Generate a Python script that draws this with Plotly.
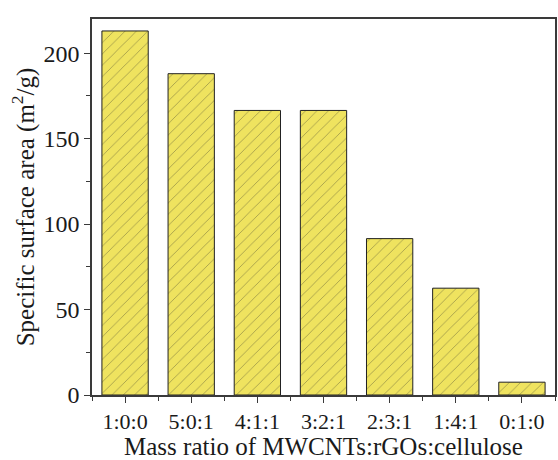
import plotly.graph_objects as go

categories = ["1:0:0", "5:0:1", "4:1:1", "3:2:1", "2:3:1", "1:4:1", "0:1:0"]
surface_area = [213, 188, 166.5, 166.5, 91.5, 62.5, 7.5]

xpos = list(range(len(categories)))
font_family = "Liberation Serif"
axis_color = "#3a3a3a"

fig = go.Figure(
    go.Bar(
        x=xpos,
        y=surface_area,
        width=0.7,
        marker=dict(
            color="#efe35f",
            line=dict(color="#222222", width=1),
            pattern=dict(shape="/", fgcolor="#4a4a30", bgcolor="#efe35f", size=8, solidity=0.1),
        ),
    )
)

fig.update_layout(
    width=558,
    height=460,
    margin=dict(l=92, r=1, t=19, b=65),
    paper_bgcolor="white",
    plot_bgcolor="white",
    showlegend=False,
    font=dict(family=font_family, color="#1a1a1a", size=20),
    xaxis=dict(
        range=[-0.5, 6.5],
        tickvals=xpos,
        ticktext=categories,
        ticks="outside",
        ticklen=6,
        tickwidth=1.2,
        tickcolor=axis_color,
        minor=dict(tick0=0.5, dtick=1, ticks="outside", ticklen=4, tickwidth=1.2, tickcolor=axis_color),
        showline=True,
        linecolor=axis_color,
        linewidth=1.6,
        mirror=True,
        showgrid=False,
        zeroline=False,
        tickfont=dict(family=font_family, size=22),
        title=dict(text="Mass ratio of MWCNTs:rGOs:cellulose", font=dict(family=font_family, size=25), standoff=4),
    ),
    yaxis=dict(
        range=[0, 220],
        dtick=50,
        tick0=0,
        ticks="outside",
        ticklen=6,
        tickwidth=1.2,
        tickcolor=axis_color,
        minor=dict(dtick=25, ticks="outside", ticklen=4, tickwidth=1.2, tickcolor=axis_color),
        showline=True,
        linecolor=axis_color,
        linewidth=1.6,
        mirror=True,
        showgrid=False,
        zeroline=False,
        tickfont=dict(family=font_family, size=24),
        title=dict(text="Specific surface area (m<sup>2</sup>/g)", font=dict(family=font_family, size=25), standoff=2),
    ),
)

fig.write_html("out.html")
